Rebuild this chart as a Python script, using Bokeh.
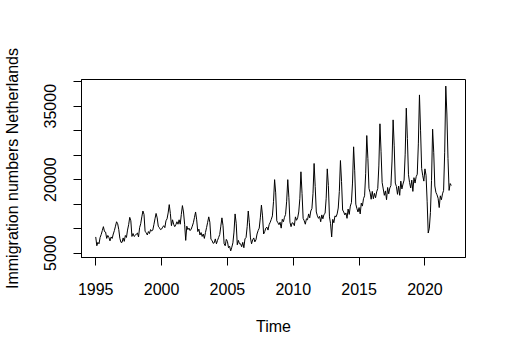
from bokeh.plotting import figure
from bokeh.models import FixedTicker, Range1d
from bokeh.embed import file_html
from bokeh.resources import INLINE

start_year = 1995
y1995 = [8300, 6500, 7200, 6900, 8200, 8800, 9600, 10400, 9400, 9300, 8000, 8600]
y1996 = [8200, 7500, 8300, 8000, 8900, 9600, 10500, 11400, 11000, 9800, 8000, 7200]
y1997 = [7200, 8100, 7400, 8600, 8200, 9700, 10800, 12300, 11600, 8400, 9000, 8400]
y1998 = [8600, 8900, 9100, 8300, 10200, 11000, 12400, 13600, 12900, 9400, 9200, 8700]
y1999 = [9400, 9000, 9800, 9500, 9700, 10800, 12000, 13100, 12200, 10500, 10200, 9800]
y2000 = [9900, 10300, 10600, 10200, 11600, 12000, 13200, 14900, 13100, 10600, 11800, 10900]
y2001 = [10400, 10800, 11400, 10900, 11800, 10900, 12900, 14700, 13400, 10900, 7600, 10500]
y2002 = [9800, 10100, 9600, 9900, 10500, 11200, 12300, 13400, 11800, 9400, 9900, 8700]
y2003 = [9200, 8400, 8900, 8000, 9200, 10200, 11300, 12400, 11300, 7800, 7600, 7000]
y2004 = [7100, 7900, 6900, 7600, 8200, 8800, 10500, 12200, 10600, 6900, 6500, 7800]
y2005 = [7400, 6100, 6400, 5450, 6200, 7100, 9300, 13000, 11100, 6700, 7600, 6900]
y2006 = [6900, 6300, 7200, 6100, 7900, 8200, 10400, 13600, 11200, 8100, 6900, 7700]
y2007 = [8100, 7300, 7700, 8900, 9600, 10100, 12200, 14800, 12600, 8900, 9400, 10100]
y2008 = [10300, 9700, 10800, 11300, 11900, 12600, 15500, 20000, 17300, 11600, 11200, 10800]
y2009 = [11300, 10100, 11900, 11400, 12300, 12900, 15600, 20000, 16400, 11300, 10400, 11200]
y2010 = [11100, 10600, 12400, 11700, 12200, 13400, 16100, 21600, 17200, 12100, 11600, 10900]
y2011 = [12000, 11800, 13000, 12200, 13600, 14100, 17200, 23300, 18600, 13400, 12600, 12100]
y2012 = [12500, 11400, 12800, 12000, 12900, 13100, 16200, 22200, 18800, 12400, 11000, 8300]
y2013 = [11900, 11200, 12600, 12400, 13000, 14200, 17600, 23900, 19600, 13800, 13400, 12800]
y2014 = [13200, 12100, 14000, 12900, 14600, 15300, 19300, 26700, 21800, 15000, 14100, 13400]
y2015 = [14300, 13000, 15200, 14600, 16100, 16700, 21200, 29000, 24300, 18200, 17400, 16000]
y2016 = [17600, 16100, 17200, 16300, 17500, 18200, 22800, 31400, 25800, 19400, 18100, 16800]
y2017 = [17700, 15900, 18400, 17100, 18300, 18800, 23800, 32200, 26900, 19300, 18600, 17000]
y2018 = [18700, 16800, 19700, 18100, 19100, 19900, 25200, 34600, 28400, 21000, 19400, 18300]
y2019 = [19900, 17600, 20400, 19300, 20600, 21100, 27300, 37300, 30100, 22300, 20800, 19700]
y2020 = [22200, 20900, 15600, 9100, 10100, 13300, 19800, 30300, 25600, 18700, 17400, 16900]
y2021 = [16200, 14300, 16700, 15900, 17100, 17800, 25600, 39100, 33400, 24300, 17800, 19200]
y2022 = [18800]

y_ticks = [5000, 10000, 15000, 20000, 25000, 30000, 35000, 40000]
y_labels = {5000: "5000", 20000: "20000", 35000: "35000"}
x_ticks = [1995, 2000, 2005, 2010, 2015, 2020]

values = (y1995 + y1996 + y1997 + y1998 + y1999 + y2000 + y2001 + y2002 + y2003
          + y2004 + y2005 + y2006 + y2007 + y2008 + y2009 + y2010 + y2011 + y2012
          + y2013 + y2014 + y2015 + y2016 + y2017 + y2018 + y2019 + y2020 + y2021 + y2022)
time = [start_year + i / 12 for i in range(len(values))]

# R-style 4% padding
x0, x1 = min(time), max(time)
v0, v1 = min(values), max(values)
xp = 0.04 * (x1 - x0)
vp = 0.04 * (v1 - v0)

p = figure(width=498, height=346, output_backend="svg", toolbar_location=None,
           x_range=Range1d(x0 - xp, x1 + xp), y_range=Range1d(v0 - vp, v1 + vp),
           min_border_left=79, min_border_right=33, min_border_top=79, min_border_bottom=89)
p.background_fill_color = "white"
p.border_fill_color = "white"
p.outline_line_color = "black"
p.outline_line_width = 1
p.xgrid.visible = False
p.ygrid.visible = False

p.line(time, values, line_color="black", line_width=1)

font = "Liberation Sans"
for ax in (p.xaxis[0], p.yaxis[0]):
    ax.axis_line_color = "black"
    ax.major_tick_line_color = "black"
    ax.major_tick_out = 8
    ax.major_tick_in = 0
    ax.minor_tick_line_color = None
    ax.major_label_text_font = font
    ax.major_label_text_font_size = "16px"
    ax.major_label_text_color = "black"
    ax.axis_label_text_font = font
    ax.axis_label_text_font_size = "16px"
    ax.axis_label_text_font_style = "normal"
    ax.axis_label_text_color = "black"

p.xaxis.ticker = FixedTicker(ticks=x_ticks)
p.xaxis.major_label_standoff = 17
p.xaxis.axis_label = "Time"
p.xaxis.axis_label_standoff = 20

p.yaxis.ticker = FixedTicker(ticks=y_ticks)
p.yaxis.major_label_overrides = {t: y_labels.get(t, "") for t in y_ticks}
p.yaxis.major_label_orientation = "vertical"
p.yaxis.major_label_standoff = 17
p.yaxis.axis_label = "Immigration numbers Netherlands"
p.yaxis.axis_label_standoff = 21

open("out.html", "w").write(file_html(p, INLINE))
